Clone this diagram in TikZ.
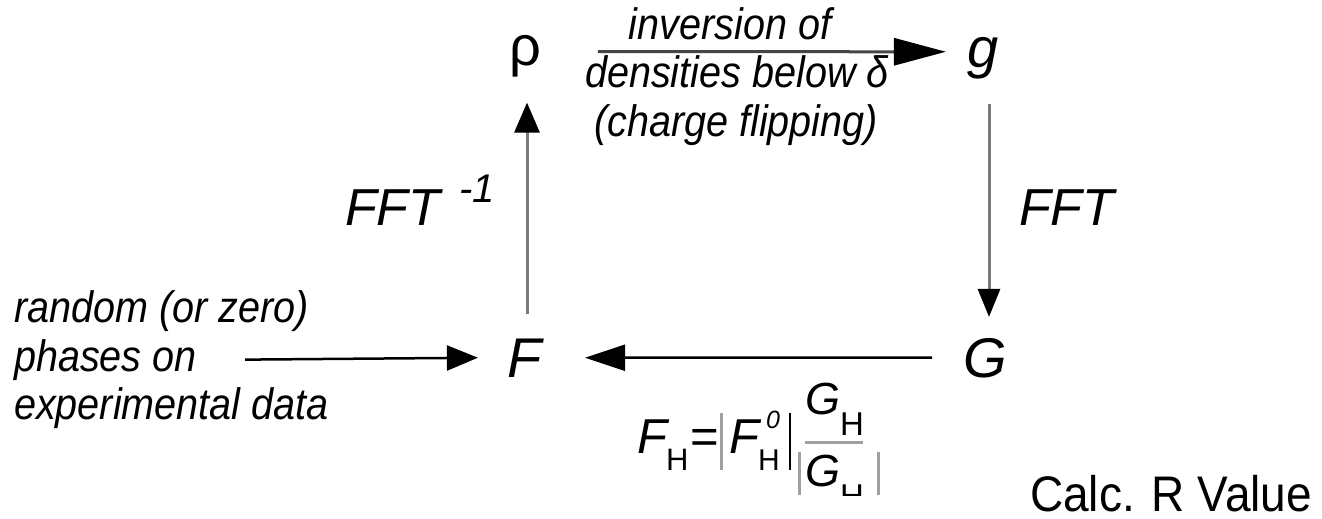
\documentclass[tikz,border=0pt]{standalone}
\usepackage{fontspec}
\setmainfont{Liberation Sans}
\usepackage{graphicx}
\usetikzlibrary{arrows.meta}
\definecolor{vgray}{HTML}{7A7A7A}
\definecolor{tgray}{HTML}{454545}
\definecolor{bgray}{HTML}{A0A0A0}
\newcommand{\lbltxt}[1]{\scalebox{0.9}[1]{#1}}
\tikzset{
  base/.style={inner sep=0pt, outer sep=0pt},
  sym/.style={base, anchor=base, font=\fontsize{56}{56}\selectfont\itshape},
  lbl/.style={base, font=\fontsize{44}{44}\selectfont\itshape},
  fft/.style={base, anchor=base west, font=\fontsize{52}{52}\selectfont\itshape},
  fml/.style={base, anchor=base west},
  grayarrow/.style={vgray, line width=3pt},
  blackarrow/.style={black, line width=2.5pt},
}
\begin{document}
\begin{tikzpicture}[x=1pt, y=-1pt]
\useasboundingbox (0,0) rectangle (1322,519);
% main symbols
\node[sym] (rho) at (525,66) {\upshape ρ};
\node[sym] (g) at (983,67) {g};
\node[sym] (F) at (525,377) {F};
\node[sym] (G) at (985,377) {G};
% top label
\node[lbl, anchor=base] (l1) at (730,40) {\lbltxt{inversion of}};
\node[lbl, anchor=base] (l2) at (737,88) {\lbltxt{densities below δ}};
\node[lbl, anchor=base] (l3) at (736,136) {\lbltxt{(charge flipping)}};
% left label
\node[lbl, anchor=base west] (r1) at (14,322) {\lbltxt{random (or zero)}};
\node[lbl, anchor=base west] (r2) at (14,371) {\lbltxt{phases on}};
\node[lbl, anchor=base west] (r3) at (14,419) {\lbltxt{experimental data}};
% FFT labels
\node[fft] (fftinv) at (345,225) {FFT\hspace{19pt}\raisebox{23pt}{\fontsize{40}{40}\selectfont -1}};
\node[fft] (fftfw) at (1019,225) {FFT};
% arrows
\draw[tgray, line width=3pt, -{Triangle[length=52pt, width=27pt, color=black]}]
  ([xshift=57pt, yshift=5pt]rho.east) -- ([xshift=-21.5pt, yshift=6pt]g.west);
\draw[grayarrow, -{Triangle[length=30pt, width=25pt, color=black]}]
  ([xshift=2pt, yshift=24pt]F.north) -- ([xshift=2pt, yshift=-25pt]rho.south);
\draw[grayarrow, -{Triangle[length=28pt, width=22pt, color=black]}]
  ([xshift=6pt, yshift=-25pt]g.south) -- ([xshift=4pt, yshift=21pt]G.north);
\draw[blackarrow, -{Triangle[length=40pt, width=26pt]}]
  ([xshift=-31pt]G.west) -- ([xshift=43pt]F.east);
\draw[blackarrow, -{Triangle[length=31pt, width=25pt]}]
  (r2.east -| 245,0) -- ([xshift=-30pt]F.west);
% formula
\node[fml, font=\fontsize{49}{49}\selectfont\itshape] (fF) at (637,453) {F};
\node[fml, font=\fontsize{31}{31}\selectfont] (fH) at (666,470) {H};
\node[base, anchor=base, font=\fontsize{49}{49}\selectfont] (feq) at (705,453) {=};
\node[fml, font=\fontsize{49}{49}\selectfont\itshape] (fF0) at (729,453) {F};
\node[fml, font=\fontsize{25}{25}\selectfont\itshape] (f0) at (766,428) {0};
\node[fml, font=\fontsize{30}{30}\selectfont] (fH0) at (758,470) {H};
\node[fml, font=\fontsize{45}{45}\selectfont\itshape] (fGn) at (805,414) {G};
\node[fml, font=\fontsize{33}{33}\selectfont] (fHn) at (840,435) {H};
\node[fml, font=\fontsize{45}{45}\selectfont\itshape] (fGd) at (805,486) {G};
\begin{scope}
  \clip (830,470) rectangle (880,495);
  \node[fml, font=\fontsize{33}{33}\selectfont] (fHd) at (840,507) {H};
\end{scope}
\draw[bgray, line width=3pt] (721,413) -- (721,470);
\draw[black, line width=2.5pt] (790,413) -- (790,470);
\draw[bgray, line width=3pt] (805,442) -- (863,442);
\draw[bgray, line width=3pt] (799,452) -- (799,495);
\draw[bgray, line width=3pt] (878,452) -- (878,495);
% calc
\node[fml, font=\fontsize{50}{50}\selectfont] (calc) at (1030,511) {\scalebox{0.92}[1]{Calc. R Value}};
\end{tikzpicture}
\end{document}
